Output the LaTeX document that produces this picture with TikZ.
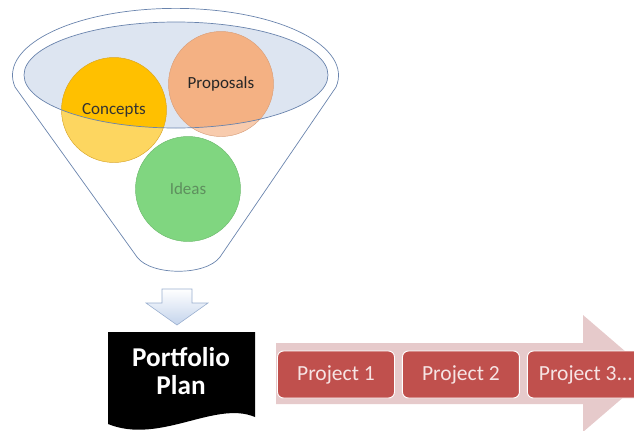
\documentclass[tikz,border=0pt]{standalone}
\usepackage{fontspec}
\setmainfont{Carlito}
\usetikzlibrary{positioning}
\definecolor{bowl}{HTML}{DDE5F1}
\definecolor{rimblue}{HTML}{6A84AD}
\definecolor{conceptgold}{HTML}{FFC000}
\definecolor{conceptpale}{HTML}{FDD660}
\definecolor{conceptedge}{HTML}{D9A62A}
\definecolor{proposaltan}{HTML}{F4B183}
\definecolor{proposalpale}{HTML}{F8CBAD}
\definecolor{proposaledge}{HTML}{D9A07C}
\definecolor{ideagreen}{HTML}{80D680}
\definecolor{ideaedge}{HTML}{6DBA6D}
\definecolor{ideatext}{HTML}{5E8F5E}
\definecolor{dropblue}{HTML}{C4D4EC}
\definecolor{dropedge}{HTML}{9AAFCF}
\definecolor{pinkband}{HTML}{E6CACB}
\definecolor{projred}{HTML}{C0504D}
\definecolor{projtxt}{HTML}{F6E4E4}
\begin{document}
\begin{tikzpicture}[x=0.3mm,y=-0.3mm,
	rim/.style={draw=rimblue,line width=0.6pt},
	bubble/.style={circle,minimum size=31.5mm,inner sep=0pt,line width=0.4pt,font=\fontsize{14.5}{16}\selectfont},
	projbox/.style={rounded corners=1.8mm,draw=white,line width=0.8pt,fill=projred,text=projtxt,minimum width=35.1mm,minimum height=14.1mm,font=\fontsize{18.4}{20}\selectfont}]
	\clip (0,0) rectangle (634,430);
	\coordinate (tl) at (15,87);
	\coordinate (bl) at (137,257);
	\coordinate (br) at (220,257);
	\coordinate (c1) at (114,110);
	\coordinate (c2) at (221,84);
	\coordinate (c3) at (188,189);
	% funnel
	\draw[rim] (bl)--(tl) arc[start angle=170,end angle=370,x radius=163,y radius=67]--(br) .. controls (206,276) and (151,276) .. (bl);
	\fill[bowl] (176,75) ellipse[x radius=152,y radius=53];
	\fill[conceptpale] (c1) circle[radius=15.75mm];
	\fill[proposalpale] (c2) circle[radius=15.75mm];
	\fill[ideagreen] (c3) circle[radius=15.75mm];
	\begin{scope}
		\clip (176,75) ellipse[x radius=152,y radius=53];
		\fill[conceptgold] (c1) circle[radius=15.75mm];
		\fill[proposaltan] (c2) circle[radius=15.75mm];
	\end{scope}
	\node[bubble,draw=conceptedge,text=black!80] (concepts) at (c1) {Concepts};
	\node[bubble,draw=proposaledge,text=black!85] (proposals) at (c2) {Proposals};
	\node[bubble,draw=ideaedge,text=ideatext] (ideas) at (c3) {Ideas};
	\draw[rim] (176,75) ellipse[x radius=152,y radius=53];
	% drop arrow
	\draw[dropedge,line width=0.5pt,top color=white,bottom color=dropblue] (162,289)--(192,289)--(192,303)--(208,303)--(177,325)--(146,303)--(162,303)--cycle;
	% plan sheet
	\fill[black] (108,332)--(255,332)--(255,417) .. controls (215,400) and (160,445) .. (108,424)--cycle;
	\node[text=white,align=center,font=\bfseries\fontsize{23.2}{24}\selectfont] (plan) at (181,371) {Portfolio\\Plan};
	% project band
	\fill[pinkband] (276,343)--(583,343)--(583,315)--(651,373.5)--(583,432)--(583,404)--(276,404)--cycle;
	\node[projbox] (p1) at (336,374.5) {Project 1};
	\node[projbox,right=2.1mm of p1] (p2) {Project 2};
	\node[projbox,right=2.1mm of p2] (p3) {Project 3...};
\end{tikzpicture}
\end{document}
